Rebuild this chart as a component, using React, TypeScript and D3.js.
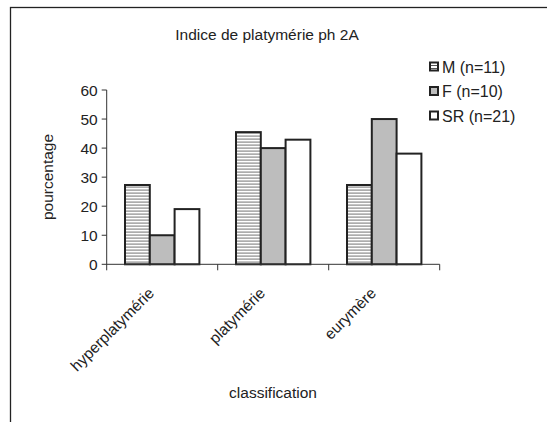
import React from "react";
import * as d3 from "d3";

const categories = ["hyperplatymérie", "platymérie", "eurymère"];
const seriesNames = ["M (n=11)", "F (n=10)", "SR (n=21)"];
const valuesM = [27.3, 45.5, 27.3];
const valuesF = [10, 40, 50];
const valuesSR = [19.0, 42.9, 38.1];
const yTicks = [0, 10, 20, 30, 40, 50, 60];
const title = "Indice de platymérie ph 2A";
const yLabel = "pourcentage";
const xLabel = "classification";

const W = 547;
const H = 422;
const FONT = "Liberation Sans, Arial, sans-serif";

export default function App() {
  const series = [valuesM, valuesF, valuesSR];
  const left = 106.7;
  const right = 439.7;
  const top = 90;
  const bottom = 264.3;
  const x = d3.scaleBand().domain(categories).range([left, right]).paddingInner(0).paddingOuter(0);
  const y = d3.scaleLinear().domain([0, 60]).range([bottom, top]);
  const barW = 24.8;
  const inner = d3.scaleBand().domain(seriesNames).range([0, barW * 3]);
  const fills = ["url(#hatch)", "#bdbdbd", "#ffffff"];

  return (
    <svg width={W} height={H} style={{ display: "block", position: "absolute", left: 0, top: 0 }} fontFamily={FONT}>
      <defs>
        <pattern id="hatch" patternUnits="userSpaceOnUse" width="6" height="3" x="0" y="0">
          <rect width="6" height="3" fill="#ffffff" />
          <rect width="6" height="1.2" y="0.5" fill="#8a8a8a" />
        </pattern>
        <pattern id="hatchL" patternUnits="userSpaceOnUse" width="6" height="3" x="0" y="1">
          <rect width="6" height="3" fill="#ffffff" />
          <rect width="6" height="1" y="0" fill="#555" />
        </pattern>
      </defs>
      <rect x={0} y={0} width={W} height={H} fill="#ffffff" />
      <rect x={10.5} y={7.5} width={W + 20} height={H + 20} fill="none" stroke="#222" strokeWidth={1.3} />
      <text x={267} y={40} textAnchor="middle" fontSize={15.5} fill="#222">{title}</text>

      {/* bars */}
      {categories.map((c, ci) => {
        const cx = (x(c) as number) + x.bandwidth() / 2;
        const gx = cx - (barW * 3) / 2;
        return series.map((s, si) => (
          <rect
            key={c + si}
            x={gx + (inner(seriesNames[si]) as number)}
            y={y(s[ci])}
            width={barW}
            height={bottom - y(s[ci])}
            fill={fills[si]}
            stroke="#222"
            strokeWidth={2}
          />
        ));
      })}

      {/* y axis */}
      <line x1={left} x2={left} y1={top} y2={bottom + 6} stroke="#333" strokeWidth={1} />
      {yTicks.map((t) => (
        <g key={t}>
          <line x1={left - 5} x2={left} y1={y(t)} y2={y(t)} stroke="#333" strokeWidth={1} />
          <text x={left - 9} y={y(t) + 5.5} textAnchor="end" fontSize={15.5} fill="#222">{t}</text>
        </g>
      ))}
      {/* x axis */}
      <line x1={left} x2={right} y1={bottom} y2={bottom} stroke="#333" strokeWidth={1} />
      {categories.map((c, i) => (
        <line key={"t" + c} x1={(x(c) as number) + x.bandwidth()} x2={(x(c) as number) + x.bandwidth()} y1={bottom} y2={bottom + 6} stroke="#333" strokeWidth={1} />
      ))}
      {categories.map((c) => {
        const cx = (x(c) as number) + x.bandwidth() / 2;
        return (
          <text key={"l" + c} transform={`translate(${cx - 11},${bottom + 26}) rotate(-45)`} textAnchor="end" fontSize={15.5} fill="#222" dy="0.35em">
            {c}
          </text>
        );
      })}
      <text x={273} y={398} textAnchor="middle" fontSize={15.5} fill="#222">{xLabel}</text>
      <text transform={`translate(53,177) rotate(-90)`} textAnchor="middle" fontSize={15.5} fill="#222">{yLabel}</text>

      {/* legend */}
      {seriesNames.map((n, i) => (
        <g key={n} transform={`translate(430,${67 + i * 24.5})`}>
          <rect x={0} y={-4.5} width={8} height={8} fill={i === 0 ? "url(#hatchL)" : fills[i]} stroke="#222" strokeWidth={2} />
          <text x={12} y={5.5} fontSize={16} fill="#222">{n}</text>
        </g>
      ))}
    </svg>
  );
}
